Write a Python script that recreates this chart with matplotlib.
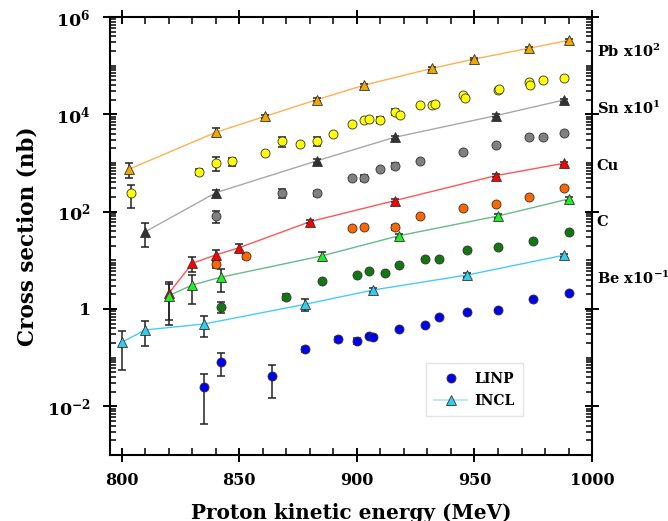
import matplotlib as mpl
mpl.use('Agg')
import matplotlib.pyplot as plt
from matplotlib.ticker import MultipleLocator, LogLocator, FixedLocator, NullFormatter
from matplotlib.lines import Line2D
import numpy as np

# measured cross sections (nb), plotted scaled by the factors below
scale = {'Pb': 100.0, 'Sn': 10.0, 'Cu': 1.0, 'C': 1.0, 'Be': 0.1}

pb_x = [804, 833, 840, 847, 861, 868, 876, 883, 890, 898, 903, 905, 910, 916, 918.5,
        927, 932, 933, 945, 946, 960, 960.5, 973, 973.5, 979, 988]
pb_y = [2.38, 6.62, 10.1, 10.8, 15.8, 28.3, 24.9, 28.3, 38.8, 63.3, 77.5, 81.3, 77.5, 112, 98.2,
        153, 153, 161, 250, 220, 316, 331, 455, 395, 500, 557]
pb_e = [1.2, 0.9, 3.3, 2.0, 0, 6.5, 0, 6.0, 0, 0, 0, 0, 10, 14, 0,
        0, 0, 0, 0, 0, 0, 0, 0, 0, 0, 0]

sn_x = [840, 868, 883, 898, 903, 910, 916, 927, 945, 959, 973, 979, 988]
sn_y = [8.14, 24.5, 24.2, 49.9, 49.9, 75.3, 86.7, 108, 171, 234, 337, 337, 407]
sn_e = [2.4, 5.0, 3.0, 0, 7.0, 0, 12, 0, 0, 0, 0, 0, 0]

cu_x = [840, 853, 898, 903, 916, 927, 945, 959, 973, 988]
cu_y = [8.28, 12.1, 46.8, 47.7, 47.7, 81.4, 119, 144, 203, 302]
cu_e = [1.3, 1.5, 0, 0, 6.5, 0, 0, 0, 0, 0]

c_x = [842, 870, 885, 900, 905, 912, 918, 929, 935, 947, 960, 975, 990]
c_y = [1.11, 1.79, 3.76, 5.0, 6.04, 5.57, 7.9, 10.5, 10.8, 16.3, 18.5, 25.0, 38.7]
c_e = [0.3, 0.25, 0, 0, 0, 0, 0, 0, 0, 0, 0, 0, 0]

be_x = [835, 842, 864, 878, 892, 900, 905, 907, 918, 929, 935, 947, 960, 975, 990]
be_y = [0.253, 0.826, 0.426, 1.49, 2.38, 2.20, 2.79, 2.70, 3.88, 4.63, 6.95, 8.55, 9.40, 16.0, 21.0]
be_e = [0.21, 0.4, 0.28, 0.2, 0.3, 0.3, 0, 0, 0, 0, 0, 0, 0, 0, 0]

# INCL calculations
pb_ix = [803, 840, 861, 883, 903, 932, 950, 973, 990]
pb_iy = [7.41, 42.7, 91, 200, 397, 880, 1370, 2270, 3320]
pb_ie = [2.55, 8.6, 7, 15, 30, 60, 90, 150, 220]

sn_ix = [810, 840, 883, 916, 959, 988]
sn_iy = [3.87, 24.5, 111, 337, 937, 1969]
sn_ie = [2.0, 3.5, 9, 25, 70, 140]

cu_ix = [820, 830, 840, 850, 880, 916, 959, 988]
cu_iy = [2.10, 8.69, 12.9, 18.2, 62.2, 168, 548, 986]
cu_ie = [1.5, 2.8, 3.3, 3.7, 5, 12, 40, 70]

c_ix = [820, 830, 842, 885, 918, 960, 990]
c_iy = [1.88, 3.11, 4.48, 12.3, 32.1, 81.4, 182]
c_ie = [1.4, 1.85, 2.2, 2.7, 3.0, 6, 14]

be_ix = [800, 810, 835, 878, 907, 947, 988]
be_iy = [2.07, 3.71, 4.92, 12.5, 24.6, 50, 127]
be_ie = [1.5, 2.0, 2.2, 3.5, 2.0, 4, 10]

plt.rcParams['font.family'] = 'DejaVu Serif'
plt.rcParams['font.weight'] = 'bold'
plt.rcParams['mathtext.fontset'] = 'dejavuserif'

fig = plt.figure(figsize=(6.68, 5.21), dpi=100)
ax = fig.add_axes([0.1647, 0.1267, 0.7216, 0.8407])

series = [
    ('Pb', pb_x, pb_y, pb_e, '#ffff00', pb_ix, pb_iy, pb_ie, '#f0a800', '#ffb050'),
    ('Sn', sn_x, sn_y, sn_e, '#808080', sn_ix, sn_iy, sn_ie, '#333333', '#a8a8a8'),
    ('Cu', cu_x, cu_y, cu_e, '#ff6600', cu_ix, cu_iy, cu_ie, '#ff0000', '#ff5555'),
    ('C', c_x, c_y, c_e, '#117711', c_ix, c_iy, c_ie, '#22ee22', '#66bb88'),
    ('Be', be_x, be_y, be_e, '#0000ee', be_ix, be_iy, be_ie, '#33ccee', '#44ccff'),
]

for name, dx, dy, de, dcol, ix, iy, ie, icol, lcol in series:
    f = scale[name]
    dy = np.array(dy) * f
    de = np.array(de) * f
    iy = np.array(iy) * f
    ie = np.array(ie) * f
    ax.plot(ix, iy, '-', color=lcol, lw=1.0, zorder=2)
    ax.errorbar(dx, dy, yerr=de, fmt='none', ecolor='#222222', elinewidth=1.1,
                capsize=3, capthick=1.1, zorder=3)
    ax.errorbar(ix, iy, yerr=ie, fmt='none', ecolor='#222222', elinewidth=1.1,
                capsize=3, capthick=1.1, zorder=3)
    ax.plot(dx, dy, 'o', ms=6.5, mfc=dcol, mec='#333333', mew=0.6, ls='none', zorder=4)
    ax.plot(ix, iy, '^', ms=6.5, mfc=icol, mec='#333333', mew=0.6, ls='none', zorder=4)

# legend proxies
h1 = Line2D([], [], marker='o', ls='none', ms=6.5, mfc='#0000ee', mec='#333333', mew=0.6)
h2 = Line2D([], [], marker='^', ls='-', color='#a8e8f8', lw=1.2, ms=6.5, mfc='#33ccee',
            mec='#333333', mew=0.6)
leg = ax.legend([h1, h2], ['LINP', 'INCL'], loc='lower left', bbox_to_anchor=(0.655, 0.088),
                frameon=True, fancybox=False, edgecolor='#dddddd', fontsize=10,
                handlelength=2.4, handletextpad=0.5, borderpad=0.6, labelspacing=0.6,
                borderaxespad=0)
leg.get_frame().set_linewidth(1.0)

ax.set_xlim(795, 1000)
ax.set_yscale('log')
ax.set_ylim(1e-3, 1e6)

ax.xaxis.set_major_locator(MultipleLocator(50))
ax.xaxis.set_minor_locator(MultipleLocator(10))
ax.yaxis.set_major_locator(FixedLocator([1e-2, 1, 1e2, 1e4, 1e6]))
ax.yaxis.set_minor_locator(LogLocator(base=10, subs=np.arange(1, 10), numticks=30))
ax.yaxis.set_minor_formatter(NullFormatter())
ax.set_yticklabels([r'$\mathbf{10^{-2}}$', r'$\mathbf{1}$', r'$\mathbf{10^{2}}$',
                    r'$\mathbf{10^{4}}$', r'$\mathbf{10^{6}}$'])

ax.tick_params(axis='both', which='major', direction='inout', length=10, width=1.4,
               labelsize=11.5, top=True, right=True, pad=7)
ax.tick_params(axis='y', which='major', labelsize=12.5, pad=9)
ax.tick_params(axis='both', which='minor', direction='in', length=5, width=1.1,
               top=True, right=True)
ax.tick_params(axis='y', which='minor', length=4)
for s in ax.spines.values():
    s.set_linewidth(1.5)

ax.set_xlabel('Proton kinetic energy (MeV)', fontsize=14.4, fontweight='bold', labelpad=10)
ax.set_ylabel('Cross section (nb)', fontsize=15.5, fontweight='bold', labelpad=6)

# element labels on the right
tr = ax.get_yaxis_transform()
ax.text(1.01, 1.94e5, r'$\mathbf{Pb\ x10^{2}}$', transform=tr, fontsize=10.5, va='center')
ax.text(1.01, 1.35e4, r'$\mathbf{Sn\ x10^{1}}$', transform=tr, fontsize=10.5, va='center')
ax.text(1.01, 880, 'Cu', transform=tr, fontsize=10.5, va='center', fontweight='bold')
ax.text(1.01, 62, 'C', transform=tr, fontsize=10.5, va='center', fontweight='bold')
ax.text(1.01, 4.3, r'$\mathbf{Be\ x10^{-1}}$', transform=tr, fontsize=10.5, va='center')

plt.savefig('out.png', dpi=100)
